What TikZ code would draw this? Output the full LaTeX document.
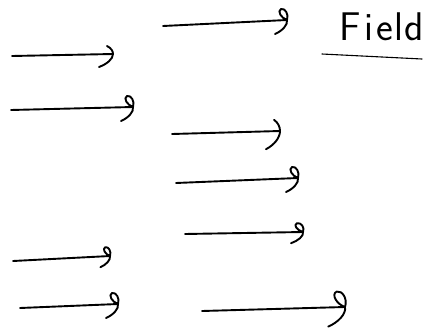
\documentclass[tikz,border=0pt]{standalone}
\usepackage{tikz}
\usetikzlibrary{positioning}

\begin{document}
\begin{tikzpicture}[
  x=1pt, y=-1pt,
  pen/.style={
    draw=black,
    line width=1.9pt,
    line cap=round,
    line join=round
  },
  shaft/.style={pen},
  loopcurl/.pic={
    \draw[pen] (0,0) .. controls (2,-6) and (-2,-12) .. (-6,-11)
      .. controls (-10,-9) and (-6,-2) .. (0,0)
      .. controls (1,5) and (-5,11) .. (-12,14);
  },
  hookcurl/.pic={
    \draw[pen] (-6,-8) .. controls (-2,-6) and (0,-3) .. (0,0)
      .. controls (0,5) and (-6,10) .. (-14,13);
  },
  label/.style={font=\sffamily\fontsize{40}{40}\selectfont, inner sep=0pt}
]
\useasboundingbox (0,0) rectangle (430,332);

% arrow ends
\coordinate (a1s) at (163,26);  \coordinate (a1e) at (287,20);
\coordinate (a2s) at (12,56);   \coordinate (a2e) at (113,54);
\coordinate (a3s) at (11,110);  \coordinate (a3e) at (133,107);
\coordinate (a4s) at (172,134); \coordinate (a4e) at (280,131);
\coordinate (a5s) at (176,183); \coordinate (a5e) at (298,178);
\coordinate (a6s) at (185,234); \coordinate (a6e) at (303,232);
\coordinate (a7s) at (13,261);  \coordinate (a7e) at (110,256);
\coordinate (a8s) at (20,308);  \coordinate (a8e) at (118,304);
\coordinate (a9s) at (202,311); \coordinate (a9e) at (345,307);

\foreach \i in {1,...,9}
  \draw[shaft] (a\i s) -- (a\i e);

\pic at (a1e) {loopcurl};
\pic at (a2e) {hookcurl};
\pic at (a3e) {loopcurl};
\pic[yscale=1.4] at (a4e) {hookcurl};
\pic at (a5e) {loopcurl};
\pic[yscale=0.8] at (a6e) {loopcurl};
\pic[scale=0.8] at (a7e) {loopcurl};
\pic at (a8e) {loopcurl};
\pic[scale=1.4] at (a9e) {loopcurl};

% label
\node[label] (field) at (382,27) {F\kern3pt i\kern3pt e\kern2pt l\kern1pt d};
\coordinate (ulstart) at (322,54);
\coordinate (ulend) at (422,59);
\draw[pen, line width=1.1pt] (ulstart) -- (ulend);

\end{tikzpicture}
\end{document}
